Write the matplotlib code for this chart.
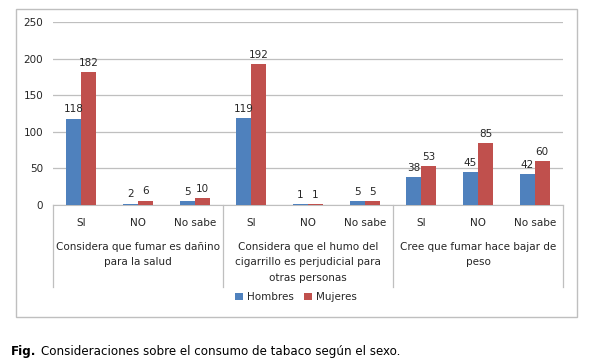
import numpy as np
import matplotlib.pyplot as plt
from matplotlib.patches import Rectangle

# data
respuestas = ["SI", "NO", "No sabe"] * 3
grupos = ["Considera que fumar es dañino\npara la salud",
          "Considera que el humo del\ncigarrillo es perjudicial para\notras personas",
          "Cree que fumar hace bajar de\npeso"]
hombres = [118, 2, 5, 119, 1, 5, 38, 45, 42]
mujeres = [182, 6, 10, 192, 1, 5, 53, 85, 60]

azul = "#4F81BD"
rojo = "#C0504D"
gris = "#BFBFBF"
txt = "#262626"

plt.rcParams['font.family'] = ['DejaVu Sans']

fig = plt.figure(figsize=(5.99, 3.63), dpi=100)
ax = fig.add_axes([53/599, 1-205/363, 510/599, 183/363])

x = np.arange(len(respuestas))
w = 0.265
b1 = ax.bar(x - w/2, hombres, w, color=azul, label="Hombres", zorder=3)
b2 = ax.bar(x + w/2, mujeres, w, color=rojo, label="Mujeres", zorder=3)

for bars, vals in [(b1, hombres), (b2, mujeres)]:
    for r, v in zip(bars, vals):
        ax.annotate(str(v), (r.get_x() + r.get_width()/2, v), xytext=(0, 3),
                    textcoords="offset points", ha="center", va="bottom",
                    fontsize=7.5, color=txt)

ax.set_xlim(-0.5, 8.5)
ax.set_ylim(0, 250)
ax.set_yticks(range(0, 251, 50))
ax.yaxis.grid(True, color=gris, lw=0.9, zorder=0)
ax.set_xticks(x)
ax.set_xticklabels(respuestas)
ax.tick_params(axis="both", length=0, labelsize=7.5, colors=txt)
ax.tick_params(axis="y", pad=7)
ax.tick_params(axis="x", pad=9.5)
for s in ["left", "right", "top"]:
    ax.spines[s].set_visible(False)
ax.spines["bottom"].set_color(gris)

# group separators and labels under the axis
trans = ax.get_xaxis_transform()
for b in [-0.5, 2.5, 5.5, 8.5]:
    ax.plot([b, b], [0, -82/183], color=gris, lw=0.9, transform=trans, clip_on=False)
for i, g in enumerate(grupos):
    ax.text(3*i + 1, -37/183, g, transform=trans, ha="center", va="top",
            fontsize=7.5, color=txt, linespacing=1.68)

fig.legend(loc="center", bbox_to_anchor=(296/599, 1-297/363), ncol=2, frameon=False,
           fontsize=7.5, handlelength=0.7, handleheight=0.7, handletextpad=0.4,
           columnspacing=1.0, labelcolor=txt)

fig.patches.append(Rectangle((16/599, 1-317/363), 561/599, 308/363,
                             transform=fig.transFigure, fill=False,
                             edgecolor=gris, lw=1))

t1 = fig.text(11/599, 1-352/363, "Fig.", fontsize=8.6, fontweight="bold",
              color="black", va="center")
ax.annotate("Consideraciones sobre el consumo de tabaco según el sexo.",
            xy=(1, 0.5), xycoords=t1, xytext=(3, 0), textcoords="offset points",
            va="center", fontsize=8.6, color="black", annotation_clip=False)

fig.savefig("out.png", dpi=100)
